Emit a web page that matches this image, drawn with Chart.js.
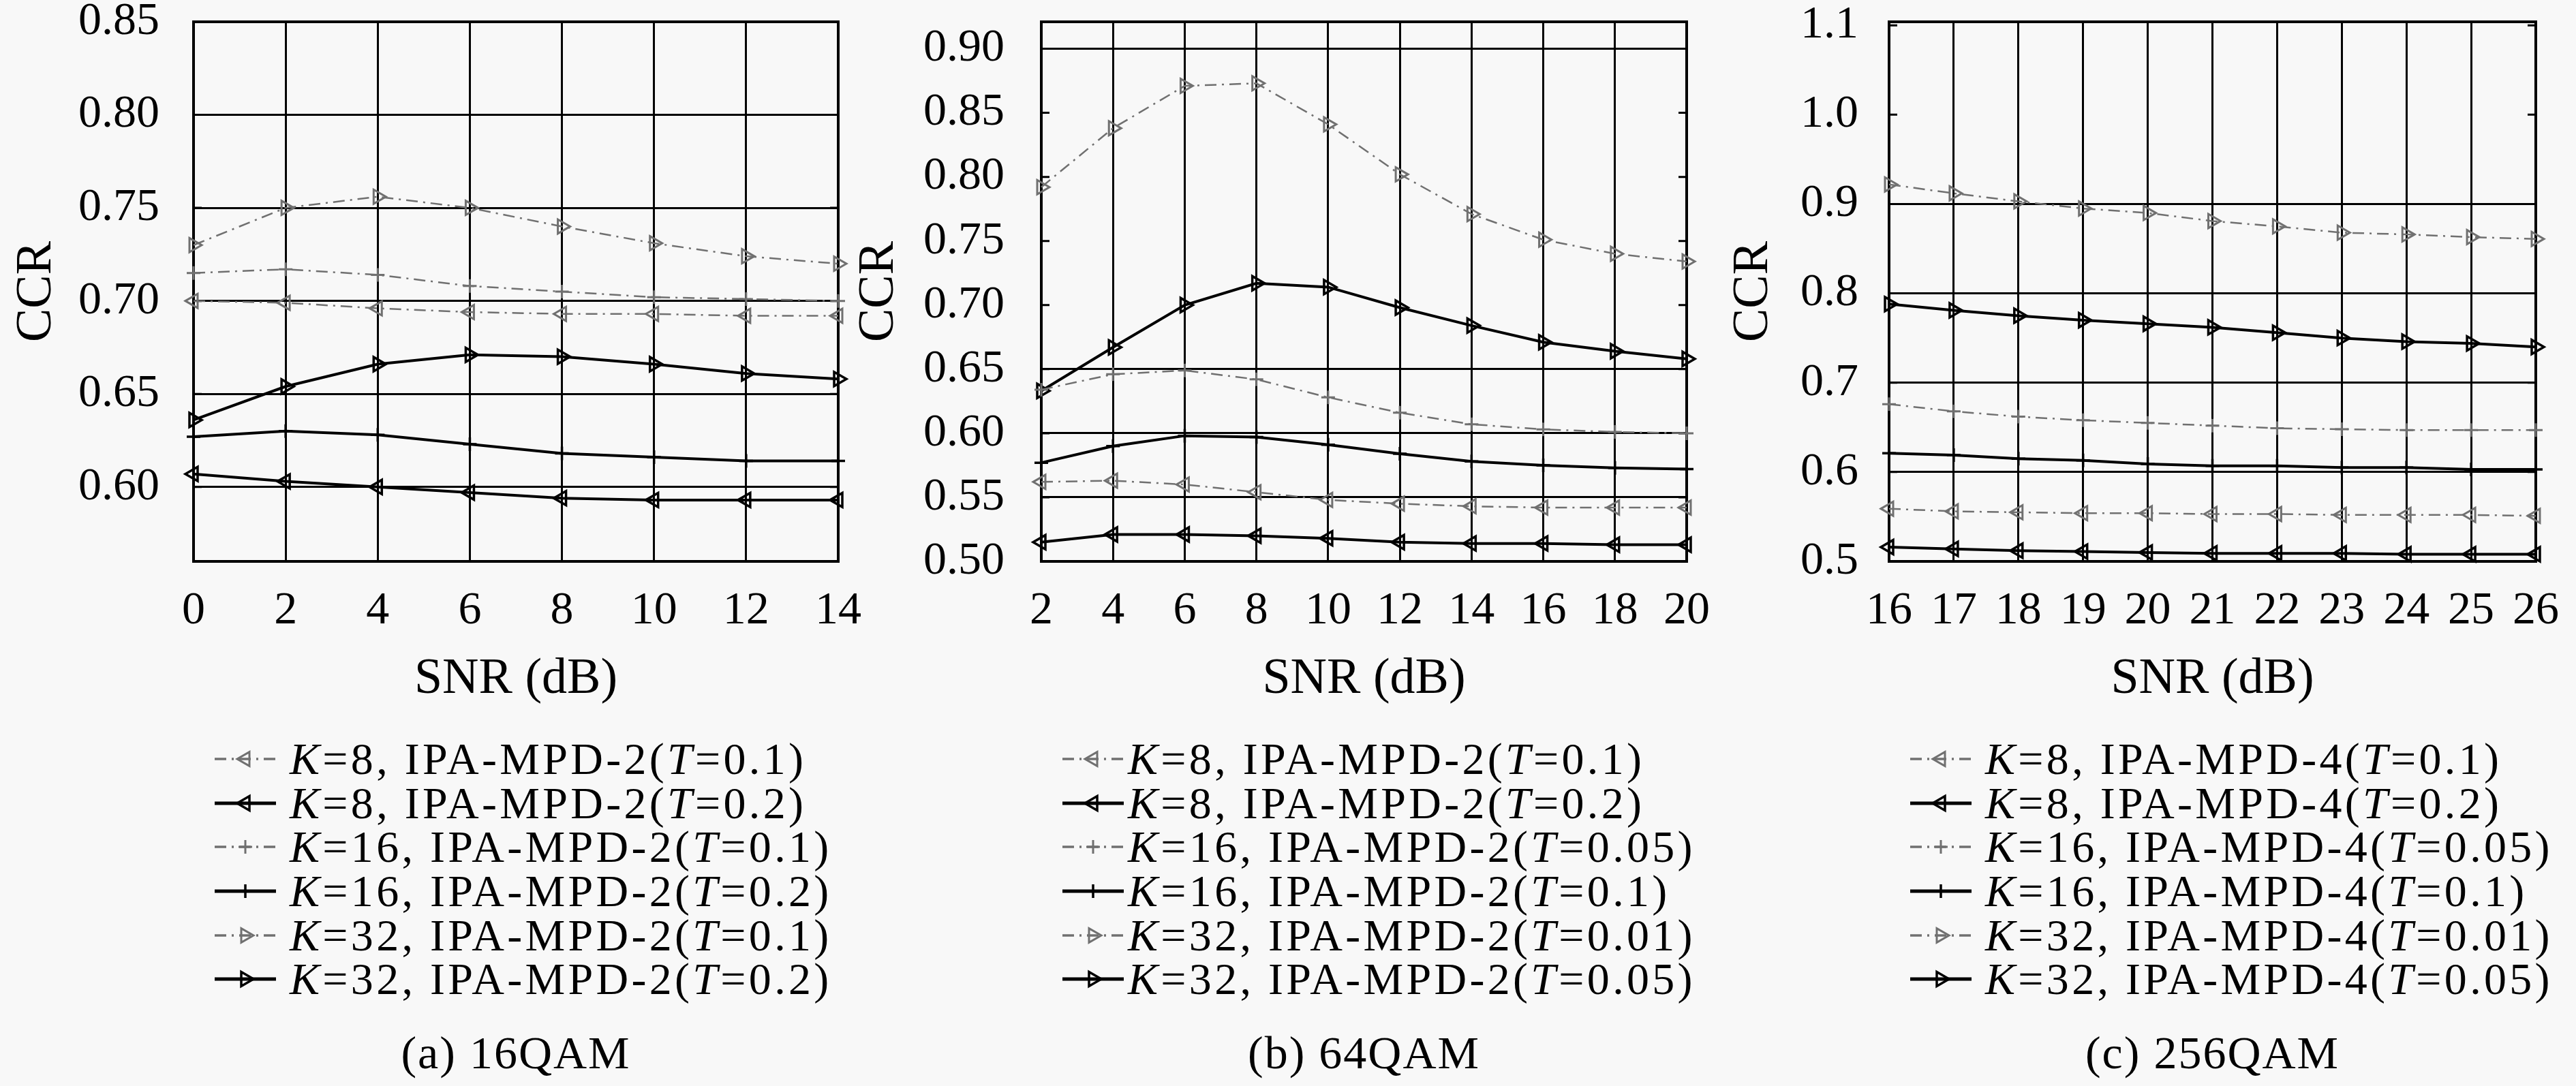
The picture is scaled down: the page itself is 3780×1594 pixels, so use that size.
<!DOCTYPE html>
<html>
<head>
<meta charset="utf-8">
<script src="https://cdn.jsdelivr.net/npm/chart.js@4.4.1/dist/chart.umd.min.js"></script>
<style>
  html, body { margin: 0; padding: 0; background: #f8f8f8; }
  body { width: 3780px; height: 1594px; position: relative; overflow: hidden;
         font-family: 'Liberation Serif', 'Times New Roman', serif; color: #000; }
  canvas.plot { position: absolute; top: 0; }
  .legend { position: absolute; font-size: 66px; }
  .legend .row { height: 64.7px; line-height: 64.7px; white-space: nowrap; position: relative; }
  .legend .row canvas { position: absolute; left: 0; top: 12px; }
  .legend .row span { position: absolute; top: 0; letter-spacing: 4.3px; }
  .caption { position: absolute; font-size: 68px; line-height: 80px; letter-spacing: 2px;
             transform: translateX(-50%); white-space: nowrap; }
</style>
</head>
<body>
<script>
// x values (SNR, dB)
const snr16 = [0, 2, 4, 6, 8, 10, 12, 14];
const snr64 = [2, 4, 6, 8, 10, 12, 14, 16, 18, 20];
const snr256 = [16, 17, 18, 19, 20, 21, 22, 23, 24, 25, 26];

// y tick labels
const yTicks16 = [0.60, 0.65, 0.70, 0.75, 0.80, 0.85];
const yTicks64 = [0.50, 0.55, 0.60, 0.65, 0.70, 0.75, 0.80, 0.85, 0.90];
const yTicks256 = [0.5, 0.6, 0.7, 0.8, 0.9, 1.0, 1.1];

// (a) 16QAM, IPA-MPD-2
const qam16_k8_t01  = [0.700, 0.699, 0.696, 0.694, 0.693, 0.693, 0.692, 0.692];
const qam16_k8_t02  = [0.607, 0.603, 0.600, 0.597, 0.594, 0.593, 0.593, 0.593];
const qam16_k16_t01 = [0.715, 0.717, 0.714, 0.708, 0.705, 0.702, 0.701, 0.700];
const qam16_k16_t02 = [0.627, 0.630, 0.628, 0.623, 0.618, 0.616, 0.614, 0.614];
const qam16_k32_t01 = [0.730, 0.750, 0.756, 0.750, 0.740, 0.731, 0.724, 0.720];
const qam16_k32_t02 = [0.636, 0.654, 0.666, 0.671, 0.670, 0.666, 0.661, 0.658];

// (b) 64QAM, IPA-MPD-2
const qam64_k8_t01   = [0.562, 0.563, 0.560, 0.554, 0.548, 0.545, 0.543, 0.542, 0.542, 0.542];
const qam64_k8_t02   = [0.515, 0.521, 0.521, 0.520, 0.518, 0.515, 0.514, 0.514, 0.513, 0.513];
const qam64_k16_t005 = [0.634, 0.646, 0.649, 0.642, 0.628, 0.616, 0.607, 0.603, 0.601, 0.600];
const qam64_k16_t01  = [0.577, 0.590, 0.598, 0.597, 0.591, 0.584, 0.578, 0.575, 0.573, 0.572];
const qam64_k32_t001 = [0.792, 0.838, 0.871, 0.873, 0.841, 0.802, 0.771, 0.751, 0.740, 0.734];
const qam64_k32_t005 = [0.633, 0.667, 0.700, 0.717, 0.714, 0.698, 0.684, 0.671, 0.664, 0.658];

// (c) 256QAM, IPA-MPD-4
const qam256_k8_t01   = [0.559, 0.556, 0.555, 0.554, 0.554, 0.553, 0.553, 0.552, 0.552, 0.552, 0.551];
const qam256_k8_t02   = [0.516, 0.514, 0.512, 0.511, 0.510, 0.509, 0.509, 0.509, 0.508, 0.508, 0.508];
const qam256_k16_t005 = [0.676, 0.668, 0.662, 0.658, 0.655, 0.652, 0.649, 0.648, 0.647, 0.647, 0.647];
const qam256_k16_t01  = [0.621, 0.619, 0.615, 0.613, 0.609, 0.607, 0.607, 0.605, 0.605, 0.603, 0.603];
const qam256_k32_t001 = [0.922, 0.912, 0.903, 0.895, 0.890, 0.881, 0.875, 0.868, 0.866, 0.863, 0.861];
const qam256_k32_t005 = [0.788, 0.781, 0.775, 0.770, 0.766, 0.762, 0.756, 0.750, 0.746, 0.744, 0.740];

const GRAY = '#707070';
const FONT = "'Liberation Serif', 'Times New Roman', serif";
const PLOT_TOP = 32, PLOT_BOTTOM = 824, CANVAS_H = 1050;

const panels = [
  { left: 0, yW: 284, plotW: 946, titlePad: 10, tickPad: 50, xMin: 0, xMax: 14, yMin: 0.56, yMax: 0.85,
    x: snr16, yTicks: yTicks16, decimals: 2, skipGrid: [], mpd: 'IPA-MPD-2', textOff: 141,
    caption: '(a) 16QAM',
    series: [
      { k: 8, t: '0.1', gray: true, data: qam16_k8_t01 },
      { k: 8, t: '0.2', gray: false, data: qam16_k8_t02 },
      { k: 16, t: '0.1', gray: true, data: qam16_k16_t01 },
      { k: 16, t: '0.2', gray: false, data: qam16_k16_t02 },
      { k: 32, t: '0.1', gray: true, data: qam16_k32_t01 },
      { k: 32, t: '0.2', gray: false, data: qam16_k32_t02 }
    ] },
  { left: 1244, yW: 284, plotW: 947, titlePad: 2, tickPad: 54, xMin: 2, xMax: 20, yMin: 0.50, yMax: 0.921,
    x: snr64, yTicks: yTicks64, decimals: 2, skipGrid: [0.70, 0.75, 0.80, 0.85], mpd: 'IPA-MPD-2', textOff: 127,
    caption: '(b) 64QAM',
    series: [
      { k: 8, t: '0.1', gray: true, data: qam64_k8_t01 },
      { k: 8, t: '0.2', gray: false, data: qam64_k8_t02 },
      { k: 16, t: '0.05', gray: true, data: qam64_k16_t005 },
      { k: 16, t: '0.1', gray: false, data: qam64_k16_t01 },
      { k: 32, t: '0.01', gray: true, data: qam64_k32_t001 },
      { k: 32, t: '0.05', gray: false, data: qam64_k32_t005 }
    ] },
  { left: 2488, yW: 284, plotW: 949, titlePad: 41, tickPad: 45, xMin: 16, xMax: 26, yMin: 0.50, yMax: 1.104,
    x: snr256, yTicks: yTicks256, decimals: 1, skipGrid: [1.0, 1.1], mpd: 'IPA-MPD-4', textOff: 141,
    caption: '(c) 256QAM',
    series: [
      { k: 8, t: '0.1', gray: true, data: qam256_k8_t01 },
      { k: 8, t: '0.2', gray: false, data: qam256_k8_t02 },
      { k: 16, t: '0.05', gray: true, data: qam256_k16_t005 },
      { k: 16, t: '0.1', gray: false, data: qam256_k16_t01 },
      { k: 32, t: '0.01', gray: true, data: qam256_k32_t001 },
      { k: 32, t: '0.05', gray: false, data: qam256_k32_t005 }
    ] }
];

function markerFor(k) {
  if (k === 8) return { style: 'triangle', rot: -90, r: 12 };
  if (k === 16) return { style: 'cross', rot: 0, r: 10 };
  return { style: 'triangle', rot: 90, r: 12 };
}

function lineStyle(s) {
  return s.gray
    ? { color: GRAY, width: 2.5, dash: [17, 8, 3, 8], pw: 3 }
    : { color: '#000', width: 4, dash: [], pw: 3.5 };
}

// plot frame and short inner ticks on both sides
const framePlugin = {
  id: 'frame',
  beforeDatasetsDraw(chart) {
    const { ctx, chartArea: a } = chart;
    const y = chart.scales.y;
    ctx.save();
    ctx.strokeStyle = '#000';
    ctx.lineWidth = 3;
    y.ticks.forEach(t => {
      const py = y.getPixelForValue(t.value);
      ctx.beginPath();
      ctx.moveTo(a.left, py); ctx.lineTo(a.left + 12, py);
      ctx.moveTo(a.right, py); ctx.lineTo(a.right - 12, py);
      ctx.stroke();
    });
    ctx.lineWidth = 4;
    ctx.strokeRect(a.left, a.top, a.right - a.left, a.bottom - a.top);
    ctx.restore();
  }
};

function drawSwatch(cv, s) {
  const ctx = cv.getContext('2d');
  const st = lineStyle(s), m = markerFor(s.k);
  const cy = cv.height / 2;
  ctx.strokeStyle = st.color;
  ctx.lineWidth = st.width + 1;
  ctx.setLineDash(st.dash);
  ctx.beginPath(); ctx.moveTo(0, cy); ctx.lineTo(cv.width, cy); ctx.stroke();
  ctx.setLineDash([]);
  ctx.fillStyle = 'rgba(0,0,0,0)';
  ctx.lineWidth = st.pw;
  if (Chart.helpers && Chart.helpers.drawPoint) {
    Chart.helpers.drawPoint(ctx, { pointStyle: m.style, rotation: m.rot, radius: m.r, borderWidth: st.pw }, cv.width / 2, cy);
  }
}

panels.forEach(p => {
  const canvasW = p.yW + p.plotW + 60;
  const cv = document.createElement('canvas');
  cv.className = 'plot';
  cv.width = canvasW; cv.height = CANVAS_H;
  cv.style.left = p.left + 'px';
  cv.style.width = canvasW + 'px'; cv.style.height = CANVAS_H + 'px';
  document.body.appendChild(cv);

  new Chart(cv, {
    type: 'line',
    data: {
      datasets: p.series.map(s => {
        const st = lineStyle(s), m = markerFor(s.k);
        return {
          label: 'K=' + s.k + ', ' + p.mpd + '(T=' + s.t + ')',
          data: p.x.map((x, i) => ({ x: x, y: s.data[i] })),
          borderColor: st.color, borderWidth: st.width, borderDash: st.dash,
          pointStyle: m.style, pointRotation: m.rot, pointRadius: m.r,
          pointBorderColor: st.color, pointBorderWidth: st.pw,
          pointBackgroundColor: 'rgba(0,0,0,0)',
          fill: false, tension: 0, clip: false
        };
      })
    },
    options: {
      responsive: false, animation: false, devicePixelRatio: 1,
      layout: { padding: { left: 0, top: PLOT_TOP, right: canvasW - p.yW - p.plotW, bottom: 0 } },
      plugins: { legend: { display: false }, tooltip: { enabled: false } },
      scales: {
        x: {
          type: 'linear', min: p.xMin, max: p.xMax,
          afterBuildTicks: sc => { sc.ticks = p.x.map(v => ({ value: v })); },
          afterFit: sc => { sc.height = CANVAS_H - PLOT_BOTTOM; sc.paddingLeft = 0; sc.paddingRight = 0; },
          grid: { color: '#000', lineWidth: 3, drawTicks: false },
          border: { display: false },
          ticks: { padding: 32, color: '#000', maxRotation: 0, autoSkip: false,
                   font: { family: FONT, size: 68 }, callback: v => String(v) },
          title: { display: true, text: 'SNR (dB)', color: '#000', padding: { top: 0, bottom: 8 },
                   font: { family: FONT, size: 74 } }
        },
        y: {
          type: 'linear', min: p.yMin, max: p.yMax,
          afterBuildTicks: sc => { sc.ticks = p.yTicks.map(v => ({ value: v })); },
          afterFit: sc => { sc.width = p.yW; sc.paddingTop = 0; sc.paddingBottom = 0; },
          grid: { lineWidth: 3, drawTicks: false,
                  color: c => (c.tick && p.skipGrid.includes(c.tick.value)) ? 'rgba(0,0,0,0)' : '#000' },
          border: { display: false },
          ticks: { padding: p.tickPad, color: '#000', autoSkip: false,
                   font: { family: FONT, size: 68 }, callback: v => Number(v).toFixed(p.decimals) },
          title: { display: true, text: 'CCR', color: '#000', padding: { top: p.titlePad, bottom: 0 },
                   font: { family: FONT, size: 74 } }
        }
      }
    },
    plugins: [framePlugin]
  });

  // legend under the plot
  const plotLeft = p.left + p.yW;
  const lg = document.createElement('div');
  lg.className = 'legend';
  lg.style.left = (plotLeft + 31) + 'px';
  lg.style.top = (1114 - 32) + 'px';
  p.series.forEach(s => {
    const row = document.createElement('div');
    row.className = 'row';
    const sw = document.createElement('canvas');
    sw.width = 90; sw.height = 40;
    drawSwatch(sw, s);
    row.appendChild(sw);
    const span = document.createElement('span');
    span.style.left = (p.textOff - 31) + 'px';
    span.innerHTML = '<i>K</i>=' + s.k + ', ' + p.mpd + '(<i>T</i>=' + s.t + ')';
    row.appendChild(span);
    lg.appendChild(row);
  });
  document.body.appendChild(lg);

  const cap = document.createElement('div');
  cap.className = 'caption';
  cap.style.left = (plotLeft + p.plotW / 2) + 'px';
  cap.style.top = (1545 - 40) + 'px';
  cap.textContent = p.caption;
  document.body.appendChild(cap);
});
</script>
</body>
</html>
